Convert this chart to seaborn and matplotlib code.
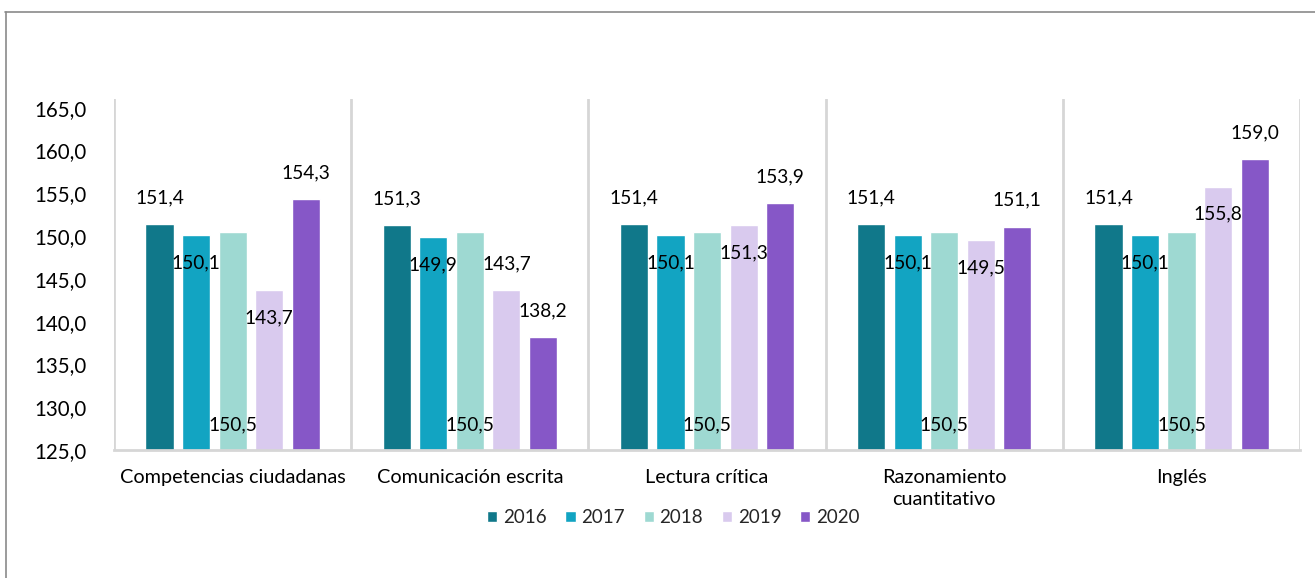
import matplotlib
matplotlib.use("Agg")
import matplotlib.pyplot as plt
from matplotlib.lines import Line2D
from matplotlib.ticker import FuncFormatter
import seaborn as sns
import pandas as pd

# Chart data
categorias = ["Competencias ciudadanas", "Comunicación escrita", "Lectura crítica",
              "Razonamiento\ncuantitativo", "Inglés"]
anios = ["2016", "2017", "2018", "2019", "2020"]
v2016 = [151.4, 151.3, 151.4, 151.4, 151.4]
v2017 = [150.1, 149.9, 150.1, 150.1, 150.1]
v2018 = [150.5, 150.5, 150.5, 150.5, 150.5]
v2019 = [143.7, 143.7, 151.3, 149.5, 155.8]
v2020 = [154.3, 138.2, 153.9, 151.1, 159.0]
y_ticks = [125, 130, 135, 140, 145, 150, 155, 160, 165]

colores = ["#10788A", "#12A4C2", "#9ED9D2", "#D9CAEE", "#8657C7"]

# where Excel put each data label: out = above the bar, in = just inside the top, base = at the bottom
pos_labels = [
    ["out", "out", "out", "out", "out"],
    ["in", "in", "in", "in", "in"],
    ["base", "base", "base", "base", "base"],
    ["in", "out", "in", "in", "in"],
    ["out", "out", "out", "out", "out"],
]

series = [v2016, v2017, v2018, v2019, v2020]
rows = []
for anio, vals in zip(anios, series):
    for cat, v in zip(categorias, vals):
        rows.append({"categoria": cat, "anio": anio, "valor": v})
df = pd.DataFrame(rows)

sns.set_style("white")
plt.rcParams["font.family"] = ["Lato", "DejaVu Sans"]

fig = plt.figure(figsize=(13.15, 5.78), dpi=100)
ax = fig.add_axes([0.0867, 0.2215, 0.902, 0.6075])

sns.barplot(data=df, x="categoria", y="valor", hue="anio", palette=colores,
            width=0.77, gap=0.23, ax=ax, saturation=1)

ax.set_ylim(125, 166.05)
ax.set_xlim(-0.5, 4.5)
ax.set_yticks(y_ticks)
ax.yaxis.set_major_formatter(FuncFormatter(lambda v, p: f"{v:.1f}".replace(".", ",")))
ax.tick_params(axis="y", length=0, pad=20, labelsize=14.8, labelcolor="black")
ax.tick_params(axis="x", length=0, pad=14, labelsize=14.3, labelcolor="black")
for lab in ax.get_xticklabels():
    lab.set_linespacing(1.3)
ax.set_xlabel("")
ax.set_ylabel("")

for s in ["top", "right", "left"]:
    ax.spines[s].set_visible(False)
ax.spines["bottom"].set_color("#d6d6d6")
ax.spines["bottom"].set_linewidth(2)
for i in range(len(categorias) + 1):
    ax.axvline(i - 0.5, color="#d6d6d6", lw=2, zorder=0)

# data labels
for k, cont in enumerate(ax.containers):
    for j, bar in enumerate(cont):
        v = bar.get_height()
        xc = bar.get_x() + bar.get_width() / 2
        txt = f"{v:.1f}".replace(".", ",")
        p = pos_labels[k][j]
        if p == "out":
            xy, off = (xc, v), 19
        elif p == "in":
            xy, off = (xc, v), -20
        else:
            xy, off = (xc, 125), 18
        ax.annotate(txt, xy=xy, xytext=(0, off), textcoords="offset points",
                    ha="center", va="center", fontsize=13.8, color="black")

handles, labels = ax.get_legend_handles_labels()
ax.get_legend().remove()
ax.legend(handles, labels, loc="center", bbox_to_anchor=(0.512, 0.104),
          bbox_transform=fig.transFigure, ncol=5, frameon=False, fontsize=13.5,
          handlelength=0.55, handleheight=0.55, handletextpad=0.3, columnspacing=1.0)

# outer frame (partly cut off in the original)
fig.add_artist(Line2D([5 / 1315, 1], [1 - 12 / 578, 1 - 12 / 578], color="#8a8a8a", lw=1.2))
fig.add_artist(Line2D([6 / 1315, 6 / 1315], [0, 1 - 12 / 578], color="#8a8a8a", lw=1.2))

fig.savefig("out.png", dpi=100)
